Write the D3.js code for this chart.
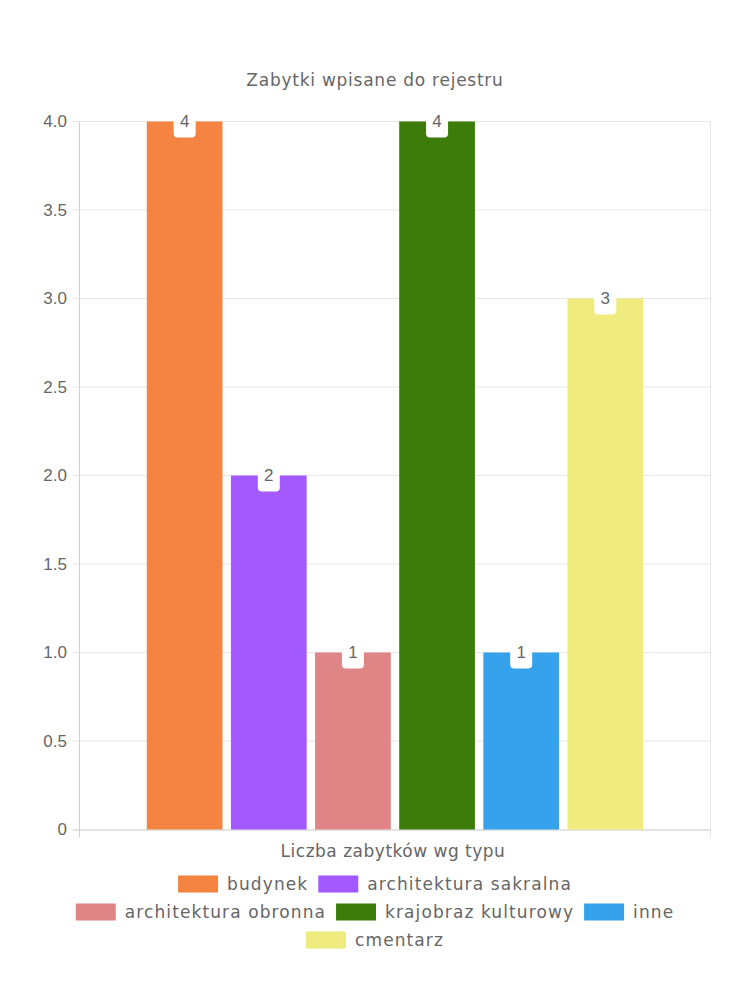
<!DOCTYPE html>
<html><head><meta charset="utf-8">
<script src="https://cdn.jsdelivr.net/npm/d3@7"></script>
<style>body{margin:0;background:#fff}</style>
</head><body>
<script>
const titleText = "Zabytki wpisane do rejestru";
const xAxisTitle = "Liczba zabytków wg typu";
const seriesNames = ["budynek","architektura sakralna","architektura obronna","krajobraz kulturowy","inne","cmentarz"];
const seriesValues = [4,2,1,4,1,3];
const seriesColors = ["#f58442","#a259fe","#e08585","#3d7b0b","#36a2eb","#f0eb7e"];
const yTicks = [0,0.5,1,1.5,2,2.5,3,3.5,4];
const legendRows = [[0,1],[2,3,4],[5]];

(function(){
const W=750,H=1000;
const svg=d3.select("body").append("svg").attr("width",W).attr("height",H);
const pL=79.5,pR=710.5,pT=121.5,pB=829.5;
const fontMain="'DejaVu Sans', sans-serif";
const fontTick="'Liberation Sans', Arial, sans-serif";
const grey="#666";

const y=d3.scaleLinear().domain([0,4]).range([pB,pT]);
const xCat=d3.scaleBand().domain(["g"]).range([pL,pR]).paddingInner(0).paddingOuter(0.125);
const x=d3.scaleBand().domain(seriesNames).range([xCat("g"),xCat("g")+xCat.bandwidth()]).paddingInner(0.1).paddingOuter(0.05);

svg.append("g").selectAll("line").data(yTicks.filter(d=>d>0)).join("line")
  .attr("x1",pL-7).attr("x2",pR).attr("y1",d=>y(d)).attr("y2",d=>y(d))
  .attr("stroke","#e6e6e6").attr("stroke-width",1);
svg.append("line").attr("x1",pR).attr("x2",pR).attr("y1",pT).attr("y2",pB+8).attr("stroke","#e6e6e6");
svg.append("line").attr("x1",pL).attr("x2",pL).attr("y1",pT).attr("y2",pB+8).attr("stroke","#d0d0d0");
svg.append("line").attr("x1",pL-7).attr("x2",pR).attr("y1",pB+0.5).attr("y2",pB+0.5).attr("stroke","#c8c8c8");

svg.append("g").selectAll("text").data(yTicks).join("text")
  .attr("x",67).attr("y",d=>y(d)).attr("dy","0.35em").attr("text-anchor","end")
  .attr("font-family",fontTick).attr("font-size",17).attr("fill",grey)
  .text(d=>d===0?"0":d.toFixed(1));

const bars=svg.append("g");
seriesNames.forEach((n,i)=>{
  bars.append("rect").attr("x",x(n)).attr("width",x.bandwidth())
    .attr("y",y(seriesValues[i])).attr("height",pB-y(seriesValues[i]))
    .attr("fill",seriesColors[i]);
});
seriesNames.forEach((n,i)=>{
  const cx=x(n)+x.bandwidth()/2, cy=y(seriesValues[i]);
  svg.append("rect").attr("x",cx-11).attr("y",cy-16).attr("width",22).attr("height",32)
    .attr("rx",4).attr("fill","#fff");
  svg.append("text").attr("x",cx).attr("y",cy).attr("dy","0.35em").attr("text-anchor","middle")
    .attr("font-family",fontTick).attr("font-size",17).attr("fill",grey).text(seriesValues[i]);
});

svg.append("text").attr("x",375).attr("y",80).attr("dy","0.35em").attr("text-anchor","middle")
  .attr("font-family",fontMain).attr("font-size",17).attr("letter-spacing",0.75).attr("fill",grey).text(titleText);
svg.append("text").attr("x",393).attr("y",851).attr("dy","0.35em").attr("text-anchor","middle")
  .attr("font-family",fontMain).attr("font-size",17).attr("letter-spacing",0.5).attr("fill",grey).text(xAxisTitle);

const rowY=[884,912,940];
legendRows.forEach((row,ri)=>{
  const g=svg.append("g");
  let cx=0;
  row.forEach(i=>{
    g.append("rect").attr("x",cx).attr("y",rowY[ri]-8.5).attr("width",40).attr("height",17).attr("fill",seriesColors[i]);
    const t=g.append("text").attr("x",cx+49).attr("y",rowY[ri]).attr("dy","0.35em")
      .attr("font-family",fontMain).attr("font-size",17).attr("letter-spacing",1.1).attr("fill",grey).text(seriesNames[i]);
    cx+=49+t.node().getComputedTextLength()+10;
  });
  const w=cx-10;
  g.attr("transform",`translate(${(W-w)/2},0)`);
});
})();
</script>
</body></html>
